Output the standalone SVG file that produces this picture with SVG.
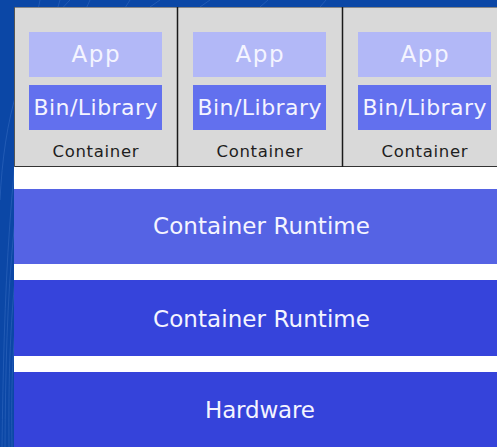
<svg xmlns="http://www.w3.org/2000/svg" width="497" height="447" viewBox="0 0 497 447">
  <style>
    .lbl { font-family: "DejaVu Sans", "Open Sans", sans-serif; fill: #f4f4ff; text-anchor: middle; dominant-baseline: central; }
    .app { fill: #b2b8f7; }
    .bin { fill: #6270ee; }
    .box { fill: #d9d9d9; }
    .cap { font-family: "DejaVu Sans", "Open Sans", sans-serif; fill: #1e1e1e; font-size: 16.5px; text-anchor: middle; dominant-baseline: central; }
    .streak { fill: none; stroke: #3a6fc4; stroke-width: 0.8; opacity: 0.6; }
  </style>
  <!-- backdrop -->
  <rect x="0" y="0" width="497" height="447" fill="#0b47a6"/>
  <g id="backdrop-streaks">
    <path class="streak" d="M2,447 C4,300 8,150 40,0"/>
    <path class="streak" d="M5,447 C6,300 10,160 60,0"/>
    <path class="streak" d="M9,447 C8,320 12,170 90,0"/>
    <path class="streak" d="M12,447 C10,330 14,180 130,0"/>
    <path class="streak" d="M0,200 C4,120 20,50 70,0"/>
    <path class="streak" d="M150,7 L160,0 M200,7 L210,0 M260,7 L268,0 M320,7 L326,0"/>
  </g>
  <!-- white panel -->
  <rect x="14" y="7" width="483" height="440" fill="#ffffff"/>

  <g id="container-1">
    <rect class="box" x="14" y="7" width="163" height="160"/>
    <rect class="app" x="29" y="32" width="133" height="45"/>
    <text class="lbl" x="95.5" y="53.5" font-size="23" textLength="48">App</text>
    <rect class="bin" x="29" y="85" width="133" height="45"/>
    <text class="lbl" x="95.5" y="107.5" font-size="22" textLength="124">Bin/Library</text>
    <text class="cap" x="95.5" y="151" textLength="86">Container</text>
  </g>
  <g id="container-2">
    <rect class="box" x="177" y="7" width="165" height="160"/>
    <rect class="app" x="193" y="32" width="133" height="45"/>
    <text class="lbl" x="259.5" y="53.5" font-size="23" textLength="48">App</text>
    <rect class="bin" x="193" y="85" width="133" height="45"/>
    <text class="lbl" x="259.5" y="107.5" font-size="22" textLength="124">Bin/Library</text>
    <text class="cap" x="259.5" y="151" textLength="86">Container</text>
  </g>
  <g id="container-3">
    <rect class="box" x="342" y="7" width="155" height="160"/>
    <rect class="app" x="358" y="32" width="133" height="45"/>
    <text class="lbl" x="424.5" y="53.5" font-size="23" textLength="48">App</text>
    <rect class="bin" x="358" y="85" width="133" height="45"/>
    <text class="lbl" x="424.5" y="107.5" font-size="22" textLength="124">Bin/Library</text>
    <text class="cap" x="424.5" y="151" textLength="86">Container</text>
  </g>
  <!-- container outlines -->
  <g id="container-borders" fill="none" stroke="#1a1a1a" stroke-width="1.5">
    <line x1="14" y1="7.5" x2="497" y2="7.5" stroke="#888" stroke-width="1"/>
    <line x1="14" y1="166.5" x2="497" y2="166.5" stroke="#333" stroke-width="1"/>
    <line x1="14.5" y1="7" x2="14.5" y2="167" stroke="#555" stroke-width="1"/>
    <line x1="177.5" y1="7" x2="177.5" y2="167"/>
    <line x1="342.5" y1="7" x2="342.5" y2="167"/>
  </g>

  <g id="runtime-upper">
    <rect x="14" y="189" width="483" height="75" fill="#5563e4"/>
    <text class="lbl" x="261.5" y="226" font-size="23" textLength="217">Container Runtime</text>
  </g>
  <g id="runtime-lower">
    <rect x="14" y="280" width="483" height="76" fill="#3644db"/>
    <text class="lbl" x="261.5" y="319" font-size="23" textLength="217">Container Runtime</text>
  </g>
  <g id="hardware">
    <rect x="14" y="372" width="483" height="75" fill="#3543da"/>
    <text class="lbl" x="260" y="410" font-size="23" textLength="110">Hardware</text>
  </g>
</svg>
